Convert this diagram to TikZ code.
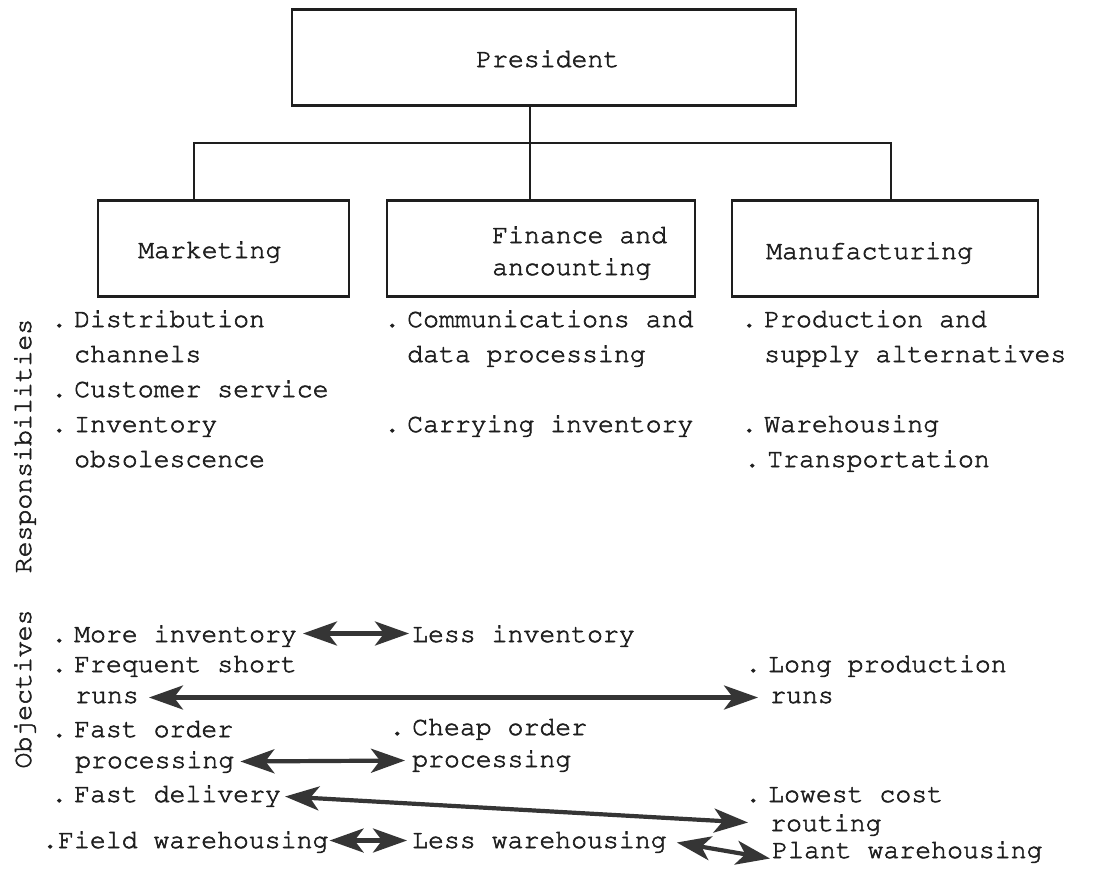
\documentclass[tikz,border=0pt]{standalone}
\usepackage[T1]{fontenc}
\usepackage{courier}
\usetikzlibrary{arrows.meta,calc}
\definecolor{ink}{HTML}{1E1E1E}
\definecolor{arrowgray}{HTML}{353535}
% bullet dot set just left of an item's first letter
\newcommand{\bul}{\llap{.\hspace{7pt}}}
% typewriter strokes: fill and stroke the glyphs for a heavier ribbon look
\newcommand{\inkweight}{\special{pdf:literal direct 2 Tr 0.55 w}}

\begin{document}
\begin{tikzpicture}[x=1pt,y=-1pt,
  every node/.style={font=\ttfamily\fontsize{26.5}{32}\selectfont\inkweight, text=ink},
  txt/.style={anchor=base west, inner sep=0pt, text height=15pt, text depth=0pt},
  orgbox/.style={draw=ink, line width=2.2pt, inner sep=0pt, minimum width=#1, minimum height=96pt},
  link/.style={draw=ink, line width=2.2pt},
  tradeoff/.style={draw=arrowgray, fill=arrowgray, line width=4.2pt,
    {Stealth[length=34pt,width=24pt,inset=9pt]}-{Stealth[length=34pt,width=24pt,inset=9pt]}},
  sidelabel/.style={rotate=90, anchor=base, inner sep=0pt},
]
\fill[white] (0,0) rectangle (1095,868);
\useasboundingbox (0,0) rectangle (1095,868);

% organisation boxes
\node[orgbox=504pt] (pres) at (544,57.5) {};
\node[orgbox=251pt] (mkt) at (223.5,248.5) {};
\node[orgbox=308pt] (fin) at (541,248.5) {};
\node[orgbox=306pt] (mfg) at (885,248.5) {};

\node[txt] (presT) at (476,67) {President};
\node[txt] (mktT) at (138,258) {Marketing};
\node[txt] (finT1) at (492,243) {Finance and};
\node[txt] (finT2) at (492,275) {ancounting};
\node[txt] (mfgT) at (766,259) {Manufacturing};

% reporting lines
\coordinate (busL) at (194,143);
\coordinate (busM) at (530,143);
\coordinate (busR) at (891,143);
\draw[link] (busM |- pres.south) -- (busM |- fin.north);
\draw[link] (busL |- mkt.north) -- (busL) -- (busR) -- (busR |- mfg.north);

% side headings
\node[sidelabel] (resp) at (31,446) {Responsibilities};
\node[sidelabel] (obj) at (31,689) {Objectives};

% responsibilities
\node[txt] (r1a) at (74,327) {\bul Distribution};
\node[txt] (r1b) at (74,362) {channels};
\node[txt] (r1c) at (74,397) {\bul Customer service};
\node[txt] (r1d) at (74,432) {\bul Inventory};
\node[txt] (r1e) at (74,467) {obsolescence};

\node[txt] (r2a) at (407,327) {\bul Communications and};
\node[txt] (r2b) at (407,362) {data processing};
\node[txt] (r2c) at (407,432) {\bul Carrying inventory};

\node[txt] (r3a) at (764,327) {\bul Production and};
\node[txt] (r3b) at (764,362) {supply alternatives};
\node[txt] (r3c) at (764,432) {\bul Warehousing};
\node[txt] (r3d) at (767,467) {\bul Transportation};

% objectives
\node[txt] (o1a) at (74,642) {\bul More inventory};
\node[txt] (o1b) at (74,672) {\bul Frequent short};
\node[txt] (o1c) at (75,703) {runs};
\node[txt] (o1d) at (74,737) {\bul Fast order};
\node[txt] (o1e) at (75,768) {processing};
\node[txt] (o1f) at (74,802) {\bul Fast delivery};
\node[txt] (o1g) at (42,848) {.Field warehousing};

\node[txt] (o2a) at (412,642) {Less inventory};
\node[txt] (o2b) at (412,735) {\bul Cheap order};
\node[txt] (o2c) at (412,767) {processing};
\node[txt] (o2d) at (412,848) {Less warehousing};

\node[txt] (o3a) at (768,672) {\bul Long production};
\node[txt] (o3b) at (770,703) {runs};
\node[txt] (o3c) at (768,802) {\bul Lowest cost};
\node[txt] (o3d) at (770,831) {routing};
\node[txt] (o3e) at (772,858) {Plant warehousing};

% conflicting objectives
\draw[tradeoff] ($(o1a.east)+(6,-1)$) -- ($(o2a.west)+(-3,-1)$);
\draw[tradeoff] ($(o1c.east)+(10,2)$) -- ($(o3b.west)+(-12,2)$);
\draw[tradeoff] ($(o1e.east)+(6,1)$) -- ($(o2c.west)+(-7,1)$);
\draw[tradeoff] ($(o1f.east)+(4,2)$) -- ($(o3d.west)+(-22,-1)$);
\draw[tradeoff] ($(o1g.east)+(1,0)$) -- ($(o2d.west)+(-5,0)$);
\draw[tradeoff] ($(o2d.east)+(10,2)$) -- ($(o3e.west)+(-2,8)$);
\end{tikzpicture}
\end{document}
